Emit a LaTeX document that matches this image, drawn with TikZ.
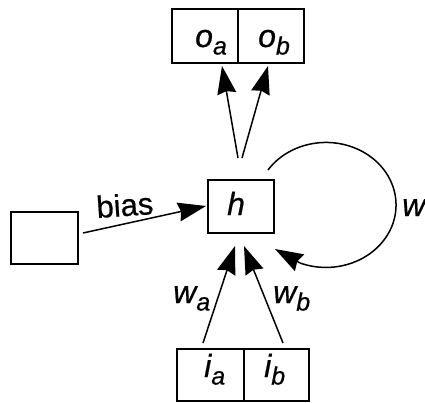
\documentclass[tikz,border=0pt]{standalone}
\usepackage{fontspec}
\setmainfont{Liberation Sans}[FakeBold=0.6]
\usetikzlibrary{arrows.meta}
\newcommand\subl[1]{\raisebox{-7.5pt}{\fontsize{25}{25}\selectfont #1}}
\begin{document}
\begin{tikzpicture}[x=1pt,y=-1pt,
  box/.style={draw, line width=1.8pt, inner sep=0pt, rectangle},
  conn/.style={line width=1.5pt, -{Stealth[length=28pt,width=19pt,inset=2.5pt]}},
  lbl/.style={inner sep=0pt, anchor=base west, font=\fontsize{32}{32}\selectfont\itshape}]
\useasboundingbox (0,0) rectangle (425,402);
% boxes
\node[box, minimum width=66pt, minimum height=54pt] (oa) at (205,36) {};
\node[box, minimum width=66pt, minimum height=54pt] (ob) at (271,36) {};
\node[box, minimum width=66pt, minimum height=53pt] (h) at (241,206.5) {};
\node[box, minimum width=67pt, minimum height=52pt] (bb) at (44.5,238) {};
\node[box, minimum width=67pt, minimum height=52pt] (ia) at (210.5,375) {};
\node[box, minimum width=65pt, minimum height=52pt] (ib) at (276.5,375) {};
% texts
\node[lbl] (toa) at (195,47) {o\subl{a}};
\node[lbl] (tob) at (258,47) {o\subl{b}};
\node[lbl] (th) at (227,215) {h};
\node[lbl] (tia) at (204,377) {i\subl{a}};
\node[lbl] (tib) at (264,377) {i\subl{b}};
\node[lbl] (tw) at (402,216) {w};
\node[lbl] (twa) at (173,303) {w\subl{a}};
\node[lbl] (twb) at (273,303) {w\subl{b}};
\node[lbl, font=\fontsize{31}{31}\selectfont, rotate=4] (tbias) at (97,218) {bias};
% connector end points
\coordinate (u1s) at (238,158);
\coordinate (u2s) at (242,158);
\coordinate (u1e) at (222,66);
\coordinate (u2e) at (268,66);
\coordinate (d1s) at (203,343);
\coordinate (d2s) at (283,343);
\coordinate (d1e) at (235,246);
\coordinate (d2e) at (244,246);
\coordinate (bs) at (83,233);
\coordinate (be) at (206,206);
\coordinate (ls) at (268,170);
\coordinate (le) at (275,249);
% connectors
\draw[conn] (u1s) -- (u1e);
\draw[conn] (u2s) -- (u2e);
\draw[conn] (d1s) -- (d1e);
\draw[conn] (d2s) -- (d2e);
\draw[conn] (bs) -- (be);
\draw[line width=1.5pt] (ls) arc[start angle=-146, end angle=112, x radius=70, y radius=62.5] coordinate (lm);
\draw[conn] (lm) -- (le);
\end{tikzpicture}
\end{document}
